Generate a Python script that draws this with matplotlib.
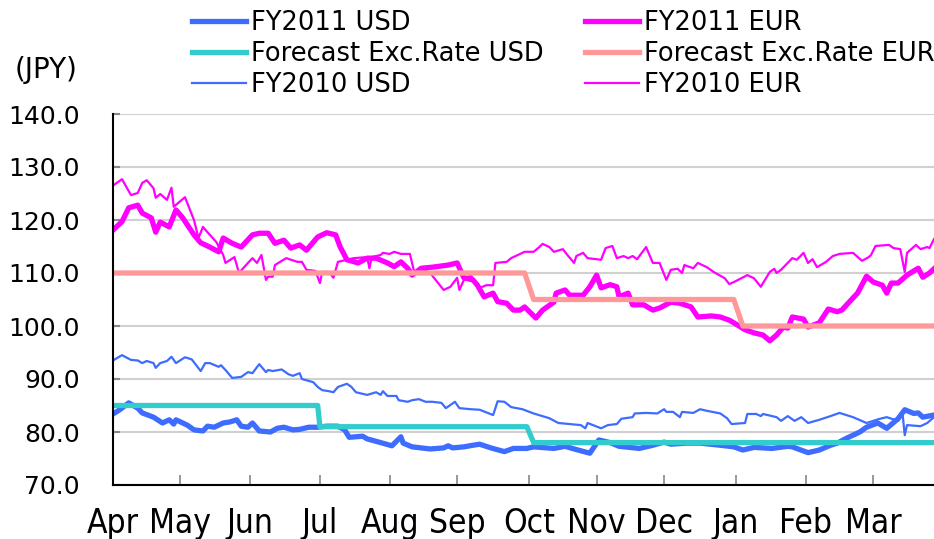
import matplotlib
matplotlib.use('Agg')
import matplotlib.pyplot as plt

# x = position in days from 1 Apr, y = JPY
usd11_day = [0, 3, 7, 11, 13, 18, 22, 25, 27, 28,
             33, 36, 40, 42, 45, 49, 52, 55, 57, 60,
             62, 65, 70, 73, 76, 80, 83, 87, 91, 95,
             100, 103, 105, 111, 113, 119, 124, 128, 129, 133,
             141, 147, 149, 151, 156, 160, 163, 168, 174, 178,
             184, 187, 196, 201, 205, 212, 216, 221, 225, 234,
             240, 245, 248, 255, 261, 270, 276, 280, 285, 293,
             300, 302, 309, 314, 319, 322, 326, 332, 335, 340,
             344, 349, 352, 356, 358, 360, 365]
usd11_val = [83.4, 84.2, 85.5, 84.5, 83.6, 82.8, 81.7, 82.3, 81.5, 82.3,
             81.3, 80.4, 80.2, 81.1, 80.9, 81.7, 81.9, 82.3, 81.1, 80.9,
             81.7, 80.2, 80.0, 80.7, 80.9, 80.4, 80.5, 80.9, 80.9, 81.1,
             81.1, 80.4, 79.0, 79.2, 78.7, 78.0, 77.4, 79.1, 77.9, 77.2,
             76.8, 77.0, 77.4, 77.0, 77.2, 77.5, 77.7, 77.0, 76.3, 76.9,
             76.9, 77.2, 76.9, 77.3, 76.8, 76.0, 78.5, 78.0, 77.3, 76.9,
             77.5, 78.1, 77.7, 77.9, 77.9, 77.5, 77.2, 76.6, 77.1, 76.9,
             77.3, 77.2, 76.1, 76.6, 77.5, 77.9, 78.8, 80.0, 80.9, 81.7,
             80.7, 82.5, 84.2, 83.5, 83.6, 82.8, 83.2]

eur11_day = [0, 4, 7, 11, 13, 17, 19, 21, 25, 28,
             31, 36, 39, 43, 47, 49, 53, 57, 62, 65,
             69, 72, 76, 79, 83, 86, 91, 95, 99, 101,
             104, 109, 113, 117, 122, 125, 128, 131, 133, 137,
             142, 149, 153, 156, 160, 162, 165, 169, 171, 175,
             178, 181, 183, 188, 191, 196, 197, 201, 203, 209,
             212, 215, 217, 221, 224, 225, 229, 231, 236, 240,
             243, 248, 252, 257, 260, 266, 270, 274, 276, 281,
             285, 289, 292, 295, 298, 300, 302, 307, 309, 314,
             318, 322, 324, 329, 331, 335, 338, 342, 344, 346,
             349, 353, 358, 360, 363, 365]
eur11_val = [118.1, 119.7, 122.3, 122.8, 121.3, 120.4, 117.7, 119.6, 118.7, 121.9,
             120.4, 117.2, 115.7, 114.9, 114.0, 116.6, 115.6, 114.9, 117.2, 117.5,
             117.5, 115.6, 116.2, 114.7, 115.3, 114.3, 116.8, 117.6, 117.2, 114.9,
             112.5, 111.9, 112.8, 112.8, 111.9, 111.2, 112.1, 110.9, 109.6, 110.9,
             111.1, 111.5, 111.9, 109.1, 108.7, 107.7, 105.5, 106.2, 104.6, 104.3,
             103.0, 103.0, 103.6, 101.5, 103.0, 104.5, 106.2, 106.8, 105.8, 105.8,
             107.4, 109.6, 107.2, 107.8, 107.4, 105.5, 106.2, 104.0, 104.0, 103.0,
             103.4, 104.5, 104.3, 103.6, 101.7, 101.9, 101.7, 101.1, 100.6, 99.3,
             98.7, 98.3, 97.2, 98.3, 99.8, 99.6, 101.7, 101.3, 99.8, 100.6,
             103.2, 102.7, 103.0, 105.3, 106.2, 109.4, 108.3, 107.7, 106.2, 108.1,
             108.1, 109.6, 110.9, 109.2, 110.0, 110.8]

usd10_day = [0, 4, 8, 11, 13, 15, 18, 19, 21, 24,
             26, 28, 32, 35, 39, 41, 43, 47, 48, 50,
             53, 57, 60, 62, 65, 68, 69, 71, 75, 78,
             80, 83, 84, 89, 91, 93, 96, 98, 100, 104,
             106, 108, 113, 117, 119, 120, 122, 126, 127, 131,
             133, 136, 139, 142, 146, 148, 152, 154, 159, 163,
             169, 171, 174, 177, 182, 187, 194, 198, 203, 208,
             210, 211, 217, 220, 224, 226, 231, 232, 237, 242,
             245, 246, 249, 252, 253, 258, 261, 264, 270, 273,
             275, 281, 282, 286, 288, 289, 295, 297, 300, 303,
             306, 309, 314, 319, 323, 329, 335, 341, 344, 349,
             351, 352, 353, 359, 362, 365]
usd10_val = [93.5, 94.5, 93.6, 93.5, 93.0, 93.4, 93.0, 92.1, 93.0, 93.4,
             94.2, 93.0, 94.1, 93.7, 91.5, 93.0, 93.0, 92.3, 92.6, 91.7,
             90.2, 90.4, 91.3, 91.1, 92.8, 91.3, 91.7, 91.5, 91.8, 90.9,
             90.6, 91.1, 90.0, 89.4, 88.5, 87.9, 87.7, 87.5, 88.5, 89.1,
             88.5, 87.5, 87.0, 87.5, 87.0, 87.7, 86.8, 86.8, 86.0, 85.7,
             86.0, 86.2, 85.7, 85.7, 85.5, 84.5, 85.7, 84.5, 84.3, 84.2,
             83.2, 85.8, 85.7, 84.7, 84.3, 83.5, 82.6, 81.7, 81.5, 81.3,
             80.7, 81.7, 80.7, 81.3, 81.5, 82.5, 82.8, 83.5, 83.6, 83.5,
             84.3, 83.8, 83.8, 82.8, 83.8, 83.6, 84.3, 84.0, 83.5, 82.6,
             81.5, 81.7, 83.4, 83.4, 83.0, 83.4, 82.8, 82.1, 83.0, 82.1,
             82.8, 81.7, 82.3, 83.0, 83.6, 82.8, 81.7, 82.5, 82.8, 82.1,
             83.5, 79.4, 81.3, 81.1, 81.7, 82.8]

eur10_day = [0, 4, 8, 11, 13, 15, 18, 19, 21, 24,
             26, 27, 32, 36, 38, 40, 42, 46, 49, 50,
             54, 56, 60, 62, 64, 66, 68, 69, 71, 72,
             77, 82, 84, 86, 90, 92, 93, 96, 98, 100,
             107, 113, 114, 115, 119, 120, 123, 125, 128, 132,
             134, 137, 141, 147, 150, 153, 154, 156, 159, 163,
             166, 169, 170, 175, 177, 181, 183, 187, 189, 191,
             194, 196, 200, 202, 205, 206, 209, 211, 217, 219,
             222, 224, 227, 229, 231, 233, 237, 240, 243, 246,
             248, 251, 253, 254, 258, 260, 264, 267, 272, 274,
             277, 282, 285, 288, 292, 294, 295, 297, 302, 304,
             307, 309, 311, 313, 317, 320, 323, 329, 333, 336,
             337, 339, 345, 347, 350, 352, 353, 357, 359, 362,
             363, 365]
eur10_val = [126.5, 127.7, 124.7, 125.1, 127.0, 127.5, 126.0, 124.2, 124.9, 123.8,
             126.1, 122.5, 124.3, 120.0, 116.6, 118.7, 117.7, 115.8, 113.4, 111.9,
             113.0, 110.0, 111.9, 112.8, 111.9, 113.4, 108.7, 109.3, 109.3, 111.5,
             112.8, 112.1, 112.1, 110.6, 110.4, 108.1, 110.2, 110.2, 109.1, 112.1,
             112.8, 113.0, 110.9, 113.0, 113.4, 113.8, 113.6, 114.0, 113.6, 113.6,
             110.0, 110.9, 110.0, 106.8, 107.4, 109.1, 106.8, 108.7, 109.6, 107.2,
             107.7, 107.7, 111.9, 112.1, 112.8, 113.6, 114.0, 114.0, 114.7, 115.5,
             114.9, 114.0, 114.5, 113.4, 111.9, 113.2, 113.8, 112.8, 112.5, 114.7,
             115.1, 112.8, 113.2, 112.8, 113.2, 112.6, 114.9, 111.9, 111.9, 108.7,
             110.6, 110.8, 110.0, 111.5, 110.9, 111.9, 111.1, 110.2, 109.0, 107.9,
             108.5, 109.6, 109.0, 107.4, 110.2, 110.8, 110.0, 110.6, 112.8, 112.5,
             113.8, 111.9, 112.6, 111.1, 112.1, 113.2, 113.6, 113.8, 112.3, 113.0,
             113.4, 115.1, 115.3, 114.7, 114.5, 110.2, 113.8, 115.3, 114.5, 114.9,
             114.7, 116.4]

# forecast exchange rates (step changes)
fc_usd_day = [0, 91, 92, 184, 187, 365]
fc_usd_val = [85, 85, 81, 81, 78, 78]
fc_eur_day = [0, 183, 187, 276, 280, 365]
fc_eur_val = [110, 110, 105, 105, 100, 100]

month_day = [0, 30, 61, 92, 123, 153, 185, 215, 245, 277, 308, 338]
month_lbl = ['Apr', 'May', 'Jun', 'Jul', 'Aug', 'Sep',
             'Oct', 'Nov', 'Dec', 'Jan', 'Feb', 'Mar']
yticks = [70, 80, 90, 100, 110, 120, 130, 140]

blue = '#3d6cff'
mag = '#ff00ff'
teal = '#33cccc'
salmon = '#ff9999'

fig = plt.figure(figsize=(9.34, 5.39), dpi=100)
ax = fig.add_axes([113/934, 1-485/539, 1-113/934, (485-114)/539])

l_usd10, = ax.plot(usd10_day, usd10_val, color=blue, lw=1.6, label='FY2010 USD')
l_eur10, = ax.plot(eur10_day, eur10_val, color=mag, lw=1.6, label='FY2010 EUR')
l_usd11, = ax.plot(usd11_day, usd11_val, color=blue, lw=3.8, label='FY2011 USD')
l_eur11, = ax.plot(eur11_day, eur11_val, color=mag, lw=3.8, label='FY2011 EUR')
l_fcu, = ax.plot(fc_usd_day, fc_usd_val, color=teal, lw=3.8,
                 label='Forecast Exc.Rate USD')
l_fce, = ax.plot(fc_eur_day, fc_eur_val, color=salmon, lw=3.8,
                 label='Forecast Exc.Rate EUR')

ax.set_xlim(0, 365)
ax.set_ylim(70, 140)
ax.set_yticks(yticks)
ax.set_yticklabels(['%.1f' % v for v in yticks], fontsize=18)
ax.set_xticks(month_day)
ax.set_xticklabels(month_lbl, fontsize=24, family='DejaVu Sans',
                   fontstretch='condensed')
ax.tick_params(axis='y', direction='in', length=5, width=1.5,
               color='#888888', pad=24)
ax.tick_params(axis='x', direction='in', length=7, width=1.2,
               color='#888888', pad=16)
ax.yaxis.grid(True, color='#d0d0d0', lw=1.5)
ax.set_axisbelow(True)
for s in ['top', 'right']:
    ax.spines[s].set_visible(False)
for s in ['left', 'bottom']:
    ax.spines[s].set_linewidth(1.5)
    ax.spines[s].set_zorder(5)

fig.text(15/934, 1-70/539, '(JPY)', fontsize=20, ha='left', va='center')

fig.legend(handles=[l_usd11, l_fcu, l_usd10, l_eur11, l_fce, l_eur10],
           ncol=2, loc='upper left', bbox_to_anchor=(192/934, 1-10/539),
           frameon=False, fontsize=18.5, handlelength=2.1,
           handletextpad=0.2, columnspacing=1.6, labelspacing=0.2,
           borderpad=0, borderaxespad=0)

fig.savefig('out.png', dpi=100)
